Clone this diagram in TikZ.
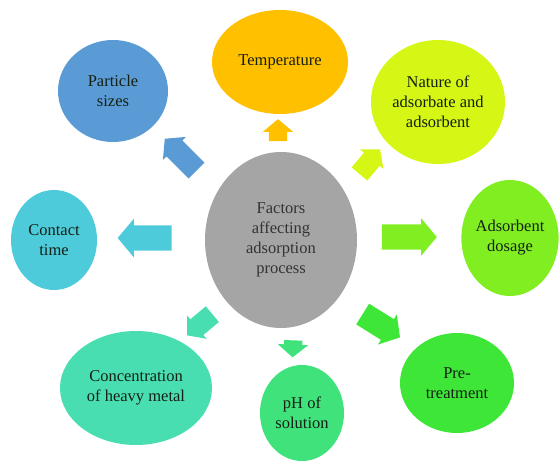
\documentclass[tikz,border=0pt]{standalone}
\usepackage{fontspec}
\setmainfont{Liberation Serif}
\usetikzlibrary{shapes.geometric,shapes.arrows}
\definecolor{cgray}{HTML}{A5A5A5}
\definecolor{ctemp}{HTML}{FFC000}
\definecolor{cpart}{HTML}{5B9BD5}
\definecolor{cnat}{HTML}{D6F616}
\definecolor{cdos}{HTML}{80EE20}
\definecolor{cpre}{HTML}{3EE638}
\definecolor{cph}{HTML}{40E27C}
\definecolor{cconc}{HTML}{48DEB2}
\definecolor{ccont}{HTML}{4ECBDA}
\definecolor{ctxt}{HTML}{142014}
\begin{document}
\begin{tikzpicture}[x=1pt,y=1pt,
  fac/.style={ellipse, inner sep=0, align=center, text=ctxt,
    font=\fontsize{16.5}{20}\selectfont},
  blk/.style={single arrow, inner xsep=0, single arrow tip angle=100}]
\useasboundingbox (0,0) rectangle (560,466);
\node[fac, fill=cgray, text=black!80, minimum width=152, minimum height=176] (ctr) at (281,226){Factors\\affecting\\adsorption\\process};
\node[fac, fill=ctemp, minimum width=136, minimum height=104] (temp) at (280,404){Temperature};
\node[fac, fill=cpart, minimum width=110, minimum height=102] (part) at (113,375){Particle\\sizes};
\node[fac, fill=cnat, minimum width=134, minimum height=124] (nat) at (438,364){Nature of\\adsorbate and\\adsorbent};
\node[fac, fill=cdos, minimum width=96, minimum height=116] (dos) at (510,228){Adsorbent\\dosage};
\node[fac, fill=cpre, minimum width=114, minimum height=100] (pre) at (457,83){Pre-\\treatment};
\node[fac, fill=cph, minimum width=84, minimum height=96] (ph) at (302,53){pH of\\solution};
\node[fac, fill=cconc, minimum width=152, minimum height=114] (conc) at (136,78){Concentration\\of heavy metal};
\node[fac, fill=ccont, minimum width=86, minimum height=100] (cont) at (54,226){Contact\\time};
% block arrows
\node[blk, fill=ctemp, minimum height=22, inner ysep=9, single arrow head extend=6, rotate=90] (atemp) at (278,332){};
\node[blk, fill=cpart, minimum height=45, inner ysep=11, single arrow head extend=5, rotate=135] (apart) at (184,308){};
\node[blk, fill=cnat, minimum height=32, inner ysep=10, single arrow head extend=5, rotate=50] (anat) at (367,301){};
\node[blk, fill=cdos, minimum height=55, inner ysep=12.5, single arrow head extend=6, rotate=0] (ados) at (404,229){};
\node[blk, fill=cpre, minimum height=44, inner ysep=12, single arrow head extend=5.5, rotate=-32] (apre) at (377,143){};
\node[blk, fill=cph, minimum height=17, inner ysep=9, single arrow head extend=6, rotate=-92] (aph) at (293,121){};
\node[blk, fill=cconc, minimum height=33, inner ysep=10, single arrow head extend=5, rotate=220] (aconc) at (203,144){};
\node[blk, fill=ccont, minimum height=54, inner ysep=12.5, single arrow head extend=6.5, rotate=180] (acont) at (150,228){};
\end{tikzpicture}
\end{document}
